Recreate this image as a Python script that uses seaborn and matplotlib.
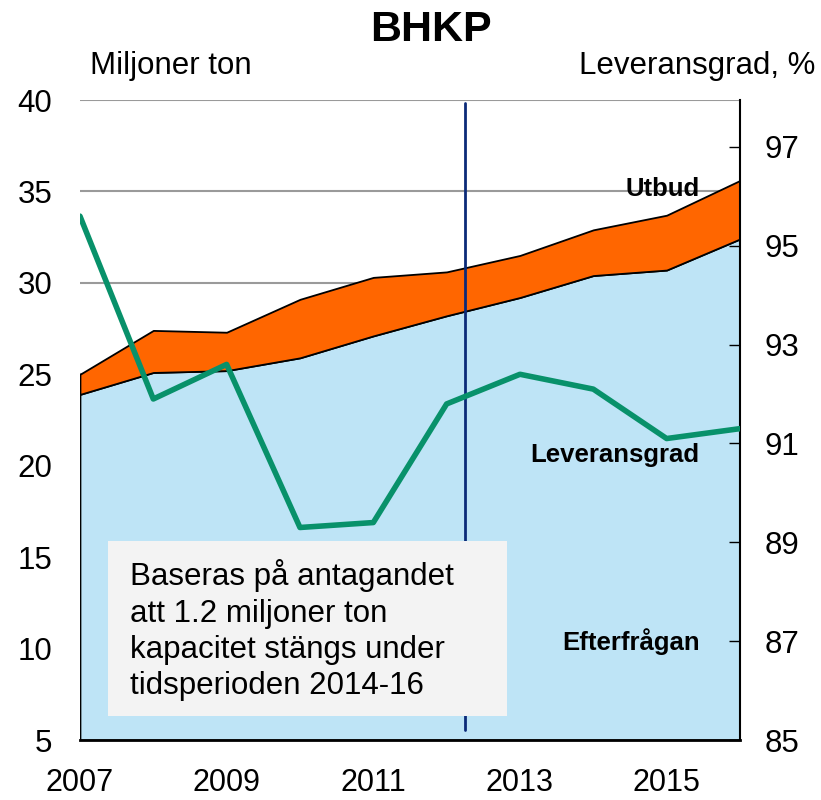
import numpy as np
import pandas as pd
import seaborn as sns
import matplotlib.pyplot as plt
from matplotlib.patches import Rectangle

# Data
years = [2007, 2008, 2009, 2010, 2011, 2012, 2013, 2014, 2015, 2016]
efterfragan = [23.9, 25.1, 25.2, 25.9, 27.1, 28.2, 29.2, 30.4, 30.7, 32.4]
utbud = [25.0, 27.4, 27.3, 29.1, 30.3, 30.6, 31.5, 32.9, 33.7, 35.6]
leveransgrad = [95.6, 91.9, 92.6, 89.3, 89.4, 91.8, 92.4, 92.1, 91.1, 91.3]
left_ticks = [5, 10, 15, 20, 25, 30, 35, 40]
right_ticks = [85, 87, 89, 91, 93, 95, 97]
marker_year = 2012.25

df = pd.DataFrame({"Year": years, "Efterfrågan": efterfragan,
                   "Utbud": utbud, "Leveransgrad": leveransgrad})

sns.set_style("white")
plt.rcParams["font.family"] = ["Liberation Sans", "DejaVu Sans"]
plt.rcParams.update({"text.color": "black", "axes.labelcolor": "black",
                     "xtick.color": "black", "ytick.color": "black"})

fig = plt.figure(figsize=(8.21, 8.0), dpi=100)
ax = fig.add_axes([0.0974, 0.075, 0.8039, 0.80])

# gridlines behind the areas
for t in left_ticks[1:]:
    ax.axhline(t, color="#9a9a9a", lw=1.5, zorder=0)

light_blue = "#BEE4F6"
orange = "#FF6600"
green = "#08916A"

ax.fill_between(df["Year"], 5, df["Efterfrågan"], facecolor=light_blue,
                edgecolor="black", lw=1.3, zorder=1)
ax.fill_between(df["Year"], df["Efterfrågan"], df["Utbud"], facecolor=orange,
                edgecolor="black", lw=1.3, zorder=2)

ax.set_xlim(2007, 2016)
ax.set_ylim(5, 40)
ax.set_yticks(left_ticks)
ax.set_xticks(years)
ax.set_xticklabels([str(y) if (y - 2007) % 2 == 0 else "" for y in years])
ax.tick_params(axis="y", length=0, labelsize=22.5, pad=20)
ax.tick_params(axis="x", direction="in", length=10, width=1, labelsize=22,
               pad=20)
ax.set_xlabel("")
ax.set_ylabel("")
for s in ["left", "top", "right"]:
    ax.spines[s].set_visible(False)
ax.spines["bottom"].set_color("black")
ax.spines["bottom"].set_linewidth(2)
ax.spines["bottom"].set_zorder(5)

ax2 = ax.twinx()
sns.lineplot(data=df, x="Year", y="Leveransgrad", ax=ax2, color=green, lw=4,
             zorder=4)
ax2.set_ylim(85, 97.95)
ax2.set_yticks(right_ticks)
ax2.set_xlim(2007, 2016)
ax2.set_ylabel("")
ax2.set_xlabel("")
ax2.tick_params(axis="y", direction="in", length=8, width=1, labelsize=22.5, pad=18)
for s in ["left", "top", "bottom"]:
    ax2.spines[s].set_visible(False)
ax2.spines["right"].set_color("black")
ax2.spines["right"].set_linewidth(1.5)

ax2.axvline(marker_year, ymin=0.015, ymax=0.995, color="#0B2A78", lw=2, zorder=3)

ax2.text(2015.45, 96.15, "Utbud", ha="right", va="center", fontsize=18.5,
         fontweight="bold", zorder=6)
ax2.text(2015.45, 90.76, "Leveransgrad", ha="right", va="center", fontsize=18.5,
         fontweight="bold", zorder=6)
ax2.text(2015.45, 87.0, "Efterfrågan", ha="right", va="center", fontsize=18.5,
         fontweight="bold", zorder=6)

# note box
ax2.add_patch(Rectangle((2007.38, 85.48), 5.45, 3.54, facecolor="#F3F3F3",
                        edgecolor="none", zorder=5))
ax2.text(2007.68, 87.22,
         "Baseras på antagandet\natt 1.2 miljoner ton\nkapacitet stängs under\ntidsperioden 2014-16",
         ha="left", va="center", fontsize=22.5, linespacing=1.27, zorder=6)

fig.text(0.525, 0.962, "BHKP", ha="center", va="center", fontsize=31,
         fontweight="bold")
fig.text(0.11, 0.918, "Miljoner ton", ha="left", va="center", fontsize=22.5)
fig.text(0.993, 0.918, "Leveransgrad, %", ha="right", va="center", fontsize=22.5)

fig.savefig("out.png", dpi=100)
